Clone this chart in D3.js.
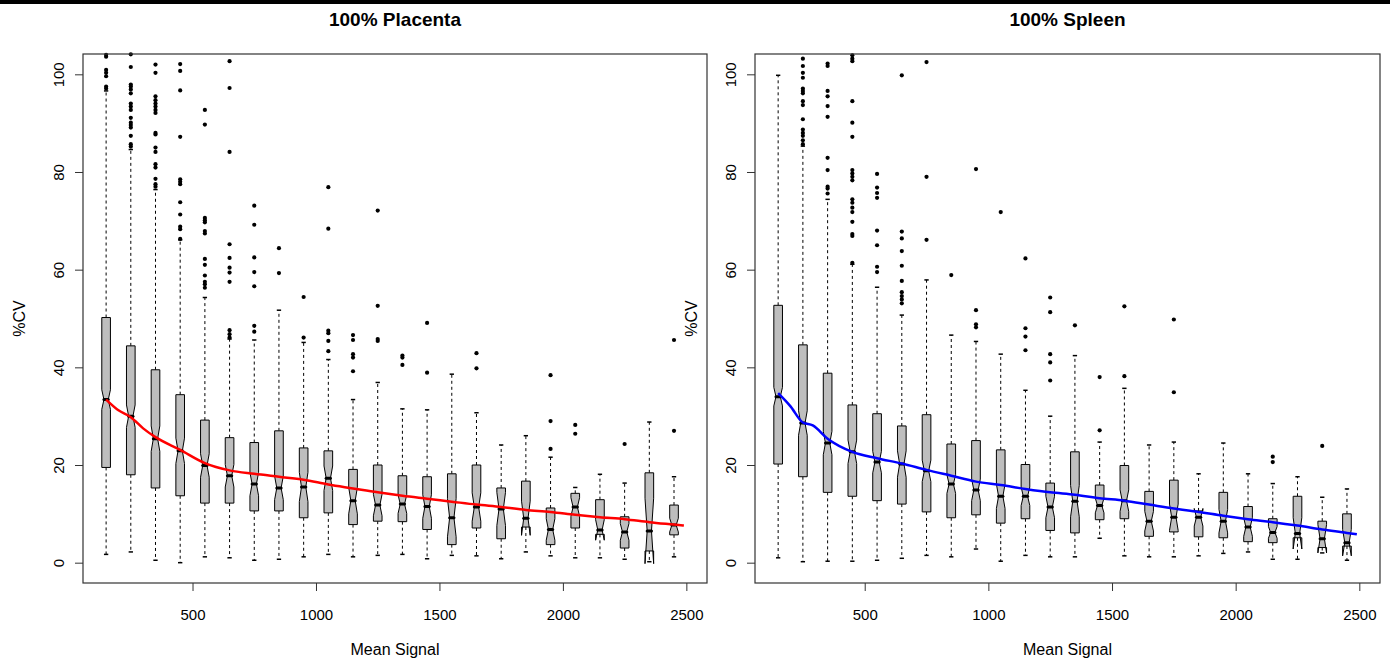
<!DOCTYPE html>
<html>
<head>
<meta charset="utf-8">
<script src="https://cdn.jsdelivr.net/npm/d3@7"></script>
<style>
  body { margin: 0; background: #fff; }
  svg { display: block; font-family: "Liberation Sans", Arial, sans-serif; }
</style>
</head>
<body>
<svg id="chart" width="1390" height="660"></svg>
<script>
// box positions (mean signal bins)
const positions = [150, 250, 350, 450, 550, 650, 750, 850, 950, 1050, 1150, 1250,
                   1350, 1450, 1550, 1650, 1750, 1850, 1950, 2050, 2150, 2250, 2350, 2450];
const xTicks = [500, 1000, 1500, 2000, 2500];
const yTicks = [0, 20, 40, 60, 80, 100];

// 100% Placenta
const plaLow   = [1.7, 2.2, 0.5, 0.0, 1.2, 1.0, 0.5, 0.7, 1.2, 1.7, 1.2, 1.5, 1.7, 0.8, 1.5, 1.4, 0.8, 2.2, 1.4, 1.0, 1.0, 0.7, 0.2, 1.2];
const plaQ1    = [19.5, 18.0, 15.3, 13.7, 12.2, 12.2, 10.6, 10.6, 9.2, 10.2, 7.8, 8.5, 8.4, 6.8, 3.7, 7.1, 4.9, 7.3, 3.7, 7.1, 5.8, 3.0, 2.4, 5.7];
const plaMed   = [33.4, 30.0, 25.4, 22.9, 19.9, 17.8, 16.1, 15.3, 15.5, 17.3, 12.7, 11.8, 12.0, 11.5, 9.2, 11.4, 11.0, 9.1, 6.8, 11.4, 6.7, 6.3, 6.5, 7.7];
const plaQ3    = [50.2, 44.4, 39.5, 34.4, 29.2, 25.6, 24.6, 27.0, 23.5, 22.9, 19.1, 20.0, 17.8, 17.6, 18.2, 20.0, 15.3, 16.7, 11.2, 14.2, 12.9, 9.4, 18.4, 11.8];
const plaHigh  = [96.6, 84.6, 76.4, 66.1, 54.3, 45.8, 45.6, 51.7, 45.1, 41.6, 33.4, 36.9, 31.5, 31.3, 38.6, 30.7, 24.1, 26.0, 21.6, 15.4, 18.1, 16.3, 28.8, 17.6];
const plaNotch = [2.0, 2.3, 2.6, 2.6, 2.4, 2.3, 2.4, 2.4, 3.0, 2.5, 2.7, 2.2, 1.9, 2.4, 3.9, 2.9, 3.4, 3.5, 2.2, 1.9, 2.1, 1.7, 6.7, 1.4];
const plaOut = [
  [97.1, 97.5, 99.6, 100.3, 100.9, 103.6, 104.0],
  [85.2, 85.7, 87.4, 89.1, 89.6, 90.1, 91.1, 92.7, 93.4, 94.0, 96.1, 96.9, 97.5, 97.9, 101.5, 104.1],
  [77.0, 77.5, 78.6, 80.9, 81.6, 84.1, 85.0, 87.7, 88.0, 92.1, 92.7, 93.4, 94.0, 94.7, 95.5, 100.3, 102.0],
  [66.3, 68.3, 68.8, 71.3, 73.8, 77.5, 78.0, 78.5, 87.2, 96.7, 100.7, 102.1],
  [56.3, 57.0, 57.5, 58.8, 61.0, 62.2, 67.4, 67.9, 69.7, 70.1, 70.6, 89.7, 92.7],
  [46.1, 46.8, 47.6, 57.5, 59.4, 60.4, 62.4, 65.2, 84.1, 97.2, 102.7],
  [47.3, 48.5, 56.6, 59.5, 62.5, 69.2, 73.1],
  [59.3, 64.4],
  [46.1, 54.4],
  [43.3, 45.4, 47.0, 47.5, 68.4, 76.9],
  [39.2, 42.0, 42.7, 45.6, 46.6],
  [45.4, 45.8, 52.6, 72.1],
  [40.5, 42.0, 42.4],
  [38.9, 49.1],
  [],
  [39.8, 42.9],
  [],
  [],
  [23.3, 29.0, 38.4],
  [26.4, 28.2],
  [],
  [24.3],
  [],
  [27.0, 45.6]
];
const plaLineX = [150, 200, 250, 300, 350, 450, 550, 650, 750, 850, 950, 1050, 1150, 1250, 1350, 1450, 1550, 1650, 1750, 1850, 1950, 2050, 2150, 2250, 2350, 2450, 2490];
const plaLineY = [33.4, 31.2, 29.8, 27.5, 25.7, 23.1, 20.4, 18.9, 18.2, 17.6, 17.0, 16.0, 15.2, 14.4, 13.7, 13.1, 12.5, 11.9, 11.4, 10.8, 10.4, 9.8, 9.3, 8.9, 8.3, 7.8, 7.6];

// 100% Spleen
const splLow   = [1.0, 0.2, 0.3, 0.3, 0.5, 0.9, 1.5, 1.2, 2.8, 0.3, 1.5, 1.2, 1.2, 5.0, 1.4, 1.2, 1.2, 1.4, 1.9, 2.2, 0.7, 0.7, 2.0, 0.5];
const splQ1    = [20.2, 17.6, 14.4, 13.6, 12.7, 12.0, 10.4, 9.2, 9.8, 8.1, 9.0, 6.6, 6.1, 8.8, 9.0, 5.4, 6.3, 5.3, 5.1, 4.3, 4.1, 5.1, 3.1, 3.4];
const splMed   = [34.0, 28.6, 24.5, 22.7, 20.6, 20.2, 18.8, 16.1, 14.9, 13.6, 13.6, 11.4, 12.6, 11.7, 12.7, 8.5, 9.3, 9.3, 8.5, 7.3, 6.2, 6.0, 4.9, 4.1];
const splQ3    = [52.7, 44.6, 38.8, 32.3, 30.5, 28.0, 30.3, 24.3, 25.0, 23.1, 20.1, 16.3, 22.7, 15.9, 19.9, 14.6, 16.9, 10.6, 14.4, 11.5, 9.0, 13.6, 8.5, 10.0];
const splHigh  = [99.8, 85.3, 74.4, 61.1, 56.4, 50.7, 57.9, 46.6, 45.3, 42.7, 35.3, 30.0, 42.4, 24.7, 35.7, 24.1, 24.7, 18.2, 24.5, 18.2, 16.2, 17.6, 13.4, 15.1];
const splNotch = [1.9, 2.5, 2.4, 2.4, 2.2, 2.7, 2.2, 1.9, 2.2, 2.5, 1.9, 2.2, 3.2, 1.5, 2.2, 2.0, 2.7, 1.8, 2.4, 1.9, 1.2, 3.2, 2.9, 2.7];
const splOut = [
  [],
  [85.7, 86.5, 87.4, 88.0, 88.7, 90.8, 93.7, 94.5, 96.1, 96.6, 97.1, 99.3, 100.3, 101.7, 103.2],
  [75.6, 76.6, 77.0, 80.4, 82.9, 91.3, 93.5, 95.5, 96.6, 101.7, 102.2],
  [61.4, 66.9, 67.3, 69.8, 71.8, 72.7, 73.7, 74.4, 78.3, 79.0, 79.7, 80.4, 87.2, 90.1, 94.5, 102.7, 103.2, 103.9],
  [59.5, 60.6, 65.0, 68.0, 74.7, 75.7, 76.8, 79.6],
  [53.1, 53.9, 54.6, 55.4, 57.7, 60.8, 63.8, 66.4, 67.8, 99.8],
  [66.1, 79.0, 102.5],
  [58.9],
  [48.2, 48.8, 51.7, 80.6],
  [71.8],
  [43.5, 46.3, 48.0, 62.3],
  [37.3, 41.0, 42.7, 51.3, 54.3],
  [48.6],
  [27.1, 38.0],
  [38.2, 52.5],
  [],
  [34.9, 49.8],
  [],
  [],
  [],
  [20.6, 21.7],
  [],
  [23.9],
  []
];
const splLineX = [150, 200, 250, 290, 350, 450, 550, 650, 750, 850, 950, 1050, 1150, 1250, 1350, 1450, 1550, 1650, 1750, 1850, 1950, 2050, 2150, 2250, 2350, 2450, 2490];
const splLineY = [34.7, 32.0, 28.7, 28.1, 25.4, 22.7, 21.4, 20.3, 19.0, 17.8, 16.6, 15.9, 15.1, 14.4, 13.9, 13.2, 12.7, 11.9, 11.1, 10.4, 9.6, 8.9, 8.3, 7.6, 6.8, 6.1, 5.8];

const panels = [
  { title: "100% Placenta", left: 83, right: 707, color: "#ff0000",
    low: plaLow, q1: plaQ1, med: plaMed, q3: plaQ3, high: plaHigh, notch: plaNotch, out: plaOut,
    lineX: plaLineX, lineY: plaLineY },
  { title: "100% Spleen", left: 755, right: 1380, color: "#0000ff",
    low: splLow, q1: splQ1, med: splMed, q3: splQ3, high: splHigh, notch: splNotch, out: splOut,
    lineX: splLineX, lineY: splLineY }
];

const plotTop = 54, plotBottom = 583;
const boxWex = 35; // box width in data units

const svg = d3.select("#chart");

// black strip along the top edge
svg.append("rect").attr("x", 0).attr("y", 0).attr("width", 1390).attr("height", 4).attr("fill", "#000");

panels.forEach(p => {
  const x = d3.scaleLinear().domain([56.4, 2583.6]).range([p.left, p.right]);
  const y = d3.scaleLinear().domain([-4.16, 104.16]).range([plotBottom, plotTop]);
  const g = svg.append("g");

  const hw = (x(boxWex) - x(0)) / 2;
  const boxes = positions.map((pos, i) => ({
    pos, low: p.low[i], q1: p.q1[i], med: p.med[i], q3: p.q3[i],
    high: p.high[i], notch: p.notch[i], out: p.out[i]
  }));

  // whiskers
  g.selectAll(".whisk")
    .data(boxes.flatMap(d => [[d, d.q3, d.high], [d, d.q1, d.low]]))
    .enter().append("line")
    .attr("x1", d => x(d[0].pos)).attr("x2", d => x(d[0].pos))
    .attr("y1", d => y(d[1])).attr("y2", d => y(d[2]))
    .attr("stroke", "#000").attr("stroke-width", 1)
    .attr("stroke-dasharray", "3,3");

  // staples
  g.selectAll(".staple")
    .data(boxes.flatMap(d => [[d.pos, d.high], [d.pos, d.low]]))
    .enter().append("line")
    .attr("x1", d => x(d[0]) - hw / 2).attr("x2", d => x(d[0]) + hw / 2)
    .attr("y1", d => y(d[1])).attr("y2", d => y(d[1]))
    .attr("stroke", "#000").attr("stroke-width", 1.5);

  // notched boxes
  g.selectAll(".box")
    .data(boxes)
    .enter().append("path")
    .attr("d", d => {
      const cx = x(d.pos);
      const lo = y(d.med - d.notch), hi = y(d.med + d.notch), m = y(d.med);
      const pts = [
        [cx - hw, y(d.q1)], [cx + hw, y(d.q1)], [cx + hw, lo], [cx + hw / 2, m],
        [cx + hw, hi], [cx + hw, y(d.q3)], [cx - hw, y(d.q3)], [cx - hw, hi],
        [cx - hw / 2, m], [cx - hw, lo]
      ];
      return "M" + pts.join("L") + "Z";
    })
    .attr("fill", "#bebebe").attr("stroke", "#000").attr("stroke-width", 1);

  // medians
  g.selectAll(".med")
    .data(boxes)
    .enter().append("line")
    .attr("x1", d => x(d.pos) - hw / 2).attr("x2", d => x(d.pos) + hw / 2)
    .attr("y1", d => y(d.med)).attr("y2", d => y(d.med))
    .attr("stroke", "#000").attr("stroke-width", 3).attr("stroke-linecap", "round");

  // outliers
  g.selectAll(".out")
    .data(boxes.flatMap(d => d.out.map(v => [d.pos, v])))
    .enter().append("circle")
    .attr("cx", d => x(d[0])).attr("cy", d => y(d[1]))
    .attr("r", 2.1).attr("fill", "#000");

  // smoothed trend
  const line = d3.line().x(d => x(d[0])).y(d => y(d[1])).curve(d3.curveMonotoneX);
  g.append("path")
    .datum(p.lineX.map((v, i) => [v, p.lineY[i]]))
    .attr("d", line)
    .attr("fill", "none").attr("stroke", p.color).attr("stroke-width", 2.5);

  // axes
  const xAxis = d3.axisBottom(x).tickValues(xTicks).tickFormat(d3.format("d"))
    .tickSize(8).tickPadding(18).tickSizeOuter(0);
  const gx = svg.append("g").attr("transform", `translate(0,${plotBottom})`).call(xAxis);
  gx.select(".domain").remove();
  gx.selectAll("line").attr("stroke", "#333");
  gx.selectAll("text").attr("font-size", "15px").attr("font-family", "Liberation Sans, Arial, sans-serif")
    .attr("fill", "#000").attr("dy", "0.71em");

  const yAxis = d3.axisLeft(y).tickValues(yTicks).tickSize(8).tickSizeOuter(0);
  const gy = svg.append("g").attr("transform", `translate(${p.left},0)`).call(yAxis);
  gy.select(".domain").remove();
  gy.selectAll("line").attr("stroke", "#333");
  gy.selectAll("text")
    .attr("x", null).attr("dy", null)
    .attr("font-size", "15px").attr("font-family", "Liberation Sans, Arial, sans-serif").attr("fill", "#000")
    .attr("text-anchor", "middle")
    .attr("transform", "translate(-19,0) rotate(-90)");

  // plot frame
  svg.append("rect")
    .attr("x", p.left).attr("y", plotTop)
    .attr("width", p.right - p.left).attr("height", plotBottom - plotTop)
    .attr("fill", "none").attr("stroke", "#333").attr("stroke-width", 1.2);

  const cx = (p.left + p.right) / 2;
  svg.append("text").attr("x", cx).attr("y", 26)
    .attr("text-anchor", "middle").attr("font-size", "19px").attr("font-weight", "bold")
    .text(p.title);

  svg.append("text").attr("x", cx).attr("y", 655)
    .attr("text-anchor", "middle").attr("font-size", "16px")
    .text("Mean Signal");

  svg.append("text")
    .attr("transform", `translate(${p.left - 58},${(plotTop + plotBottom) / 2}) rotate(-90)`)
    .attr("text-anchor", "middle").attr("font-size", "16px")
    .text("%CV");
});
</script>
</body>
</html>
